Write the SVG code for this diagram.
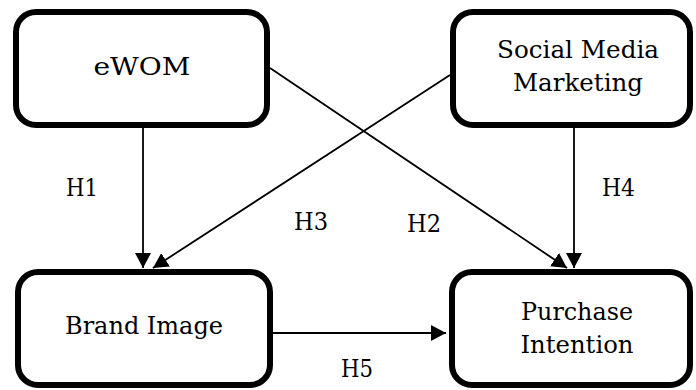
<svg xmlns="http://www.w3.org/2000/svg" width="696" height="390" viewBox="0 0 696 390">
  <style>
    .box { fill: #ffffff; stroke: #000000; stroke-width: 6; }
    .t { font-family: "DejaVu Serif", "Liberation Serif", serif; font-size: 25px; fill: #000000; text-anchor: middle; }
    .lbl { font-family: "DejaVu Serif", "Liberation Serif", serif; font-size: 25px; fill: #000000; }
    .conn { stroke: #000000; stroke-width: 1.8; fill: none; marker-end: url(#arrow); }
  </style>
  <defs>
    <marker id="arrow" markerUnits="userSpaceOnUse" markerWidth="15" markerHeight="16" refX="15" refY="8" orient="auto">
      <path d="M0,0 L15,8 L0,16 z" fill="#000000"/>
    </marker>
  </defs>
  <rect width="696" height="390" fill="#ffffff"/>
  <g id="connectors">
    <line class="conn" x1="143" y1="128" x2="143" y2="268"/>
    <line class="conn" x1="450" y1="75" x2="153" y2="268"/>
    <line class="conn" x1="270" y1="68" x2="567" y2="268"/>
    <line class="conn" x1="574" y1="128" x2="574" y2="268"/>
    <line class="conn" x1="273" y1="333" x2="446" y2="333"/>
  </g>
  <g id="node-ewom">
    <rect class="box" x="16" y="12" width="251" height="113" rx="20"/>
    <text class="t" x="142" y="75" textLength="97" lengthAdjust="spacingAndGlyphs">eWOM</text>
  </g>
  <g id="node-smm">
    <rect class="box" x="453" y="12" width="237" height="113" rx="20"/>
    <text class="t" x="578" y="58" textLength="162" lengthAdjust="spacingAndGlyphs">Social Media</text>
    <text class="t" x="578" y="91" textLength="130" lengthAdjust="spacingAndGlyphs">Marketing</text>
  </g>
  <g id="node-brand">
    <rect class="box" x="18" y="272" width="252" height="113" rx="20"/>
    <text class="t" x="144" y="334" textLength="158" lengthAdjust="spacingAndGlyphs">Brand Image</text>
  </g>
  <g id="node-purchase">
    <rect class="box" x="452" y="272" width="238" height="113" rx="20"/>
    <text class="t" x="577" y="320" textLength="112" lengthAdjust="spacingAndGlyphs">Purchase</text>
    <text class="t" x="577" y="353" textLength="113" lengthAdjust="spacingAndGlyphs">Intention</text>
  </g>
  <g id="labels">
    <text class="lbl" x="66" y="196" textLength="32" lengthAdjust="spacingAndGlyphs">H1</text>
    <text class="lbl" x="294" y="230" textLength="34" lengthAdjust="spacingAndGlyphs">H3</text>
    <text class="lbl" x="407" y="232" textLength="34" lengthAdjust="spacingAndGlyphs">H2</text>
    <text class="lbl" x="602" y="196" textLength="33" lengthAdjust="spacingAndGlyphs">H4</text>
    <text class="lbl" x="341" y="377" textLength="32" lengthAdjust="spacingAndGlyphs">H5</text>
  </g>
</svg>
